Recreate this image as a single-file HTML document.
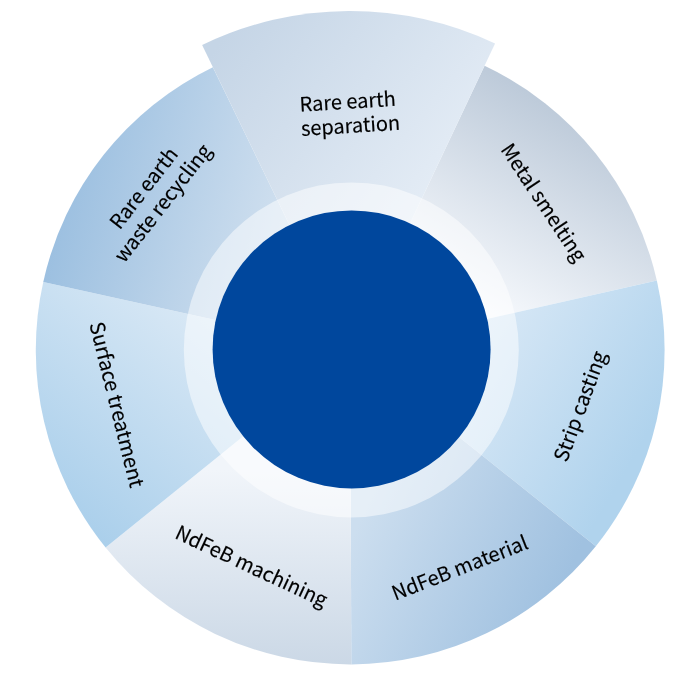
<!DOCTYPE html>
<html><head><meta charset="utf-8"><title>Rare earth value chain</title>
<style>html,body{margin:0;padding:0;background:#fff}svg{display:block;will-change:transform}text{font-family:"Noto Sans CJK SC","Liberation Sans",sans-serif;font-size:20px;fill:#000;stroke:#000;stroke-width:0.15px;text-anchor:start}</style></head>
<body>
<svg width="700" height="700" viewBox="0 0 700 700">
<defs>
<linearGradient id="s0" gradientUnits="userSpaceOnUse" x1="230" y1="30" x2="470" y2="220"><stop offset="0" stop-color="#c5d5e6"/><stop offset="1" stop-color="#e9f0f8"/></linearGradient>
<linearGradient id="s1" gradientUnits="userSpaceOnUse" x1="560" y1="92" x2="440" y2="301"><stop offset="0" stop-color="#b9c7d7"/><stop offset="1" stop-color="#fafcff"/></linearGradient>
<linearGradient id="s2" gradientUnits="userSpaceOnUse" x1="480" y1="330" x2="650" y2="430"><stop offset="0" stop-color="#d8e8f6"/><stop offset="1" stop-color="#b0d3ed"/></linearGradient>
<linearGradient id="s3" gradientUnits="userSpaceOnUse" x1="370" y1="500" x2="560" y2="590"><stop offset="0" stop-color="#ccdeef"/><stop offset="1" stop-color="#a0c1e0"/></linearGradient>
<linearGradient id="s4" gradientUnits="userSpaceOnUse" x1="300" y1="470" x2="300" y2="665"><stop offset="0" stop-color="#f1f5fa"/><stop offset="1" stop-color="#cbd8e6"/></linearGradient>
<linearGradient id="s5" gradientUnits="userSpaceOnUse" x1="70" y1="520" x2="235" y2="320"><stop offset="0" stop-color="#aacfeb"/><stop offset="1" stop-color="#dceaf6"/></linearGradient>
<linearGradient id="s6" gradientUnits="userSpaceOnUse" x1="103.0" y1="26.5" x2="347.0" y2="89.1"><stop offset="0" stop-color="#9bbfe0"/><stop offset="1" stop-color="#d7e4f1"/></linearGradient>
</defs>
<rect width="700" height="700" fill="#fff"/>
<path d="M350.2 350L484.56 65.76A314.4 314.4 0 0 1 656.85 280.61Z" fill="url(#s1)"/>
<path d="M350.2 350L656.85 280.61A314.4 314.4 0 0 1 595.81 546.28Z" fill="url(#s2)"/>
<path d="M350.2 350L595.81 546.28A314.4 314.4 0 0 1 351.30 664.40Z" fill="url(#s3)"/>
<path d="M350.2 350L351.30 664.40A314.4 314.4 0 0 1 105.59 547.52Z" fill="url(#s4)"/>
<path d="M350.2 350L105.59 547.52A314.4 314.4 0 0 1 43.26 281.90Z" fill="url(#s5)"/>
<path d="M350.2 350L43.26 281.90A314.4 314.4 0 0 1 212.87 67.18Z" fill="url(#s6)"/>
<path d="M350.2 350L202.12 45.05A339 339 0 0 1 495.07 43.52Z" fill="url(#s0)"/>
<circle cx="351.3" cy="349.9" r="167.5" fill="#fff" fill-opacity="0.5"/>
<circle cx="351.6" cy="349.4" r="139" fill="#00479d"/>
<g transform="translate(298.5 111.9) rotate(-3.6)">
<text x="1.4" y="0.0">Rare earth</text>
<text x="1.4" y="24.2">separation</text>
</g>
<g transform="translate(499.9 149.5) rotate(56.4)">
<text x="0.0" y="0.0">Metal smelting</text>
</g>
<g transform="translate(566.8 463.0) rotate(-69.8)">
<text x="0.0" y="0.0">Strip casting</text>
</g>
<g transform="translate(395.2 600.8) rotate(-21.4)">
<text x="0.0" y="0.0">NdFeB material</text>
</g>
<g transform="translate(173.7 537.8) rotate(25)">
<text x="0.0" y="0.0">NdFeB machining</text>
</g>
<g transform="translate(89.3 324.1) rotate(76)">
<text x="0.0" y="0.0" style="font-size:20.2px">Surface treatment</text>
</g>
<g transform="translate(105.3 248.9) rotate(-52)">
<text x="23.3" y="0.0">Rare earth</text>
<text x="0.0" y="24.2">waste recycling</text>
</g>
</svg>
</body></html>
